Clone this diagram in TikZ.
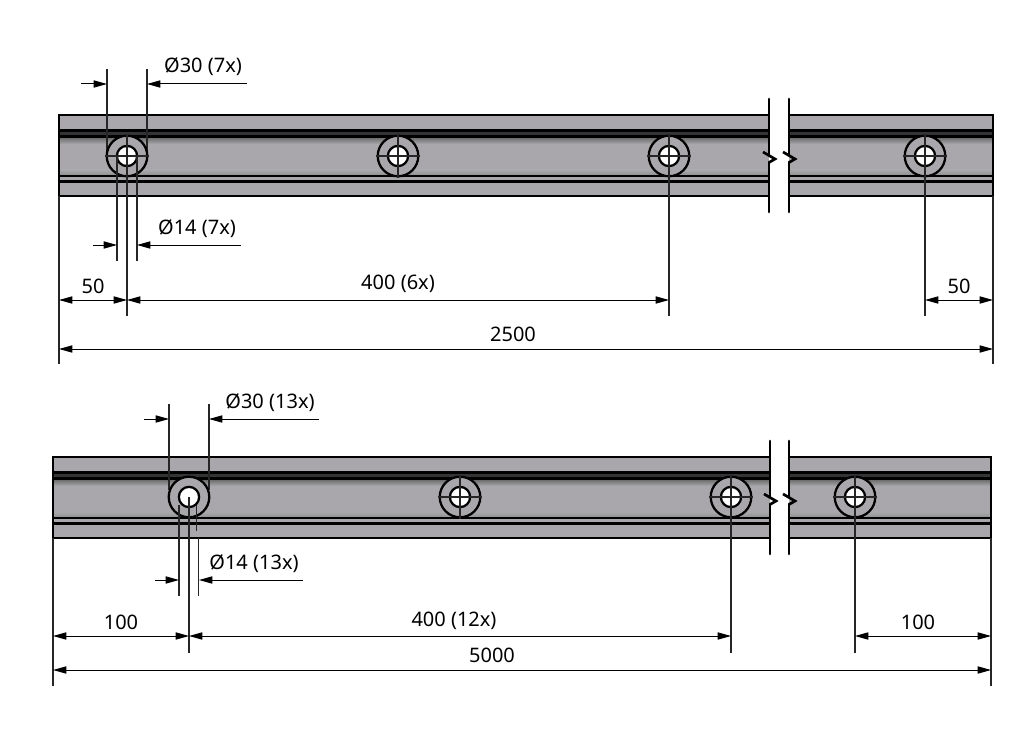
\documentclass[tikz,border=0pt]{standalone}
\usepackage{fontspec}
\setmainfont{Noto Sans}
\usetikzlibrary{arrows.meta}
\definecolor{railgray}{HTML}{A9A7AB}
\definecolor{banddark}{HTML}{343335}
\tikzset{
  x=0.75pt,y=-0.75pt,
  dimline/.style={line width=0.75pt,black},
  extline/.style={line width=0.8pt,black!85},
  arrowdim/.style={dimline,{Triangle[length=10pt,width=5.4pt]}-{Triangle[length=10pt,width=5.4pt]}},
  leftin/.style={dimline,-{Triangle[length=10pt,width=5.4pt]}},
  heavy/.style={line width=1.7pt,draw=black},
  mid/.style={line width=1.1pt,black},
  dimtext/.style={inner sep=0pt,font=\fontsize{15pt}{17pt}\selectfont,text=black},
}
% rail: x0, x1, top y
\newcommand{\railbody}[3]{%
  \fill[railgray] (#1,#3) rectangle (#2,#3+81);
  \fill[banddark] (#1,#3+15) rectangle (#2,#3+22);
  \shade[top color=black!60,bottom color=railgray] (#1,#3+22) rectangle (#2,#3+29);
  \shade[top color=railgray,bottom color=black!45] (#1,#3+55) rectangle (#2,#3+61);
  \draw[heavy] (#1,#3) rectangle (#2,#3+81);
  \draw[line width=2pt] (#1,#3+15.5) -- (#2,#3+15.5);
  \draw[line width=1.6pt] (#1,#3+21.5) -- (#2,#3+21.5);
  \draw[line width=1.3pt] (#1,#3+61) -- (#2,#3+61);
  \draw[line width=2pt] (#1,#3+66.5) -- (#2,#3+66.5);
}
\newcommand{\hole}[2]{% x, y
  \filldraw[heavy,fill=railgray] (#1,#2) circle[radius=15.2pt];
  \filldraw[heavy,fill=white] (#1,#2) circle[radius=7.6pt];
}
\newcommand{\cross}[2]{%
  \draw[extline] (#1-22,#2) -- (#1+22,#2);
  \draw[extline] (#1,#2-22) -- (#1,#2+22);
}
\newcommand{\railbreak}[3]{% xl, xr, top y
  \fill[white] (#1,#3-16) rectangle (#2,#3+97);
  \draw[line width=2pt,line cap=round] (#1,#3-16) -- (#1,#3+40);
  \draw[line width=2pt,line cap=round] (#1,#3+47) -- (#1,#3+97);
  \draw[line width=2pt,line cap=round] (#2,#3-16) -- (#2,#3+40);
  \draw[line width=2pt,line cap=round] (#2,#3+47) -- (#2,#3+97);
  \draw[line width=2pt,line join=miter] (#1-6,#3+37) -- (#1+6,#3+44) -- (#1,#3+47.5);
  \draw[line width=2pt,line join=miter] (#2-6,#3+37) -- (#2+6,#3+44) -- (#2,#3+47.5);
}
\begin{document}
\begin{tikzpicture}
\useasboundingbox (0,0) rectangle (1024,731);
\fill[white] (0,0) rectangle (1024,731);
% ===== upper rail =====
\railbody{59}{993}{115}
\railbreak{769}{789}{115}
\draw[extline] (107,69) -- (107,156);
\draw[extline] (147,69) -- (147,156);
\foreach \hx in {127,398,669,925}{\hole{\hx}{156}\cross{\hx}{156}}
\draw[extline] (117,156) -- (117,261);
\draw[extline] (137,156) -- (137,261);
\draw[extline] (127,156) -- (127,316);
\draw[extline] (669,156) -- (669,316);
\draw[extline] (925,156) -- (925,316);
\draw[extline] (59,196) -- (59,364);
\draw[extline] (993,196) -- (993,364);
% diameters
\draw[leftin] (81,84) -- (107,84);
\draw[leftin] (247,84) -- (147,84);
\draw[leftin] (93,245) -- (117,245);
\draw[leftin] (241,245) -- (137,245);
\node[dimtext] (t1a) at (203,67) {Ø30 (7x)};
\node[dimtext] (t1b) at (197,229) {Ø14 (7x)};
% lengths
\draw[arrowdim] (59,300) -- (127,300);
\draw[arrowdim] (127,300) -- (669,300);
\draw[arrowdim] (925,300) -- (993,300);
\draw[arrowdim] (59,349) -- (993,349);
\node[dimtext] (t1c) at (93,286) {50};
\node[dimtext] (t1d) at (398,284) {400 (6x)};
\node[dimtext] (t1e) at (959,286) {50};
\node[dimtext] (t1f) at (513,334) {2500};
% ===== lower rail =====
\railbody{53}{991}{457}
\railbreak{770}{789}{457}
\draw[extline] (169,404) -- (169,490);
\draw[extline] (209,404) -- (209,490);
\hole{189}{497}
\foreach \hx in {460,731,855}{\hole{\hx}{497}\cross{\hx}{497}}
\draw[extline] (179,505) -- (179,596);
\draw[extline] (196.5,505) -- (196.5,531);
\draw[extline] (198.5,538) -- (198.5,596);
\draw[line width=1pt,black!85] (189,497) -- (189,653);
\draw[extline] (731,497) -- (731,653);
\draw[extline] (855,497) -- (855,653);
\draw[extline] (53,538) -- (53,686);
\draw[extline] (991,538) -- (991,686);
\draw[leftin] (144,419) -- (169,419);
\draw[leftin] (319,419) -- (209,419);
\draw[leftin] (155,580) -- (179,580);
\draw[leftin] (303,580) -- (199,580);
\node[dimtext] (t2a) at (270,403) {Ø30 (13x)};
\node[dimtext] (t2b) at (254,564) {Ø14 (13x)};
\draw[arrowdim] (53,636) -- (189,636);
\draw[arrowdim] (189,636) -- (731,636);
\draw[arrowdim] (855,636) -- (991,636);
\draw[arrowdim] (53,670) -- (991,670);
\node[dimtext] (t2c) at (121,622) {100};
\node[dimtext] (t2d) at (454,621) {400 (12x)};
\node[dimtext] (t2e) at (918,622) {100};
\node[dimtext] (t2f) at (492,655) {5000};
\end{tikzpicture}
\end{document}
